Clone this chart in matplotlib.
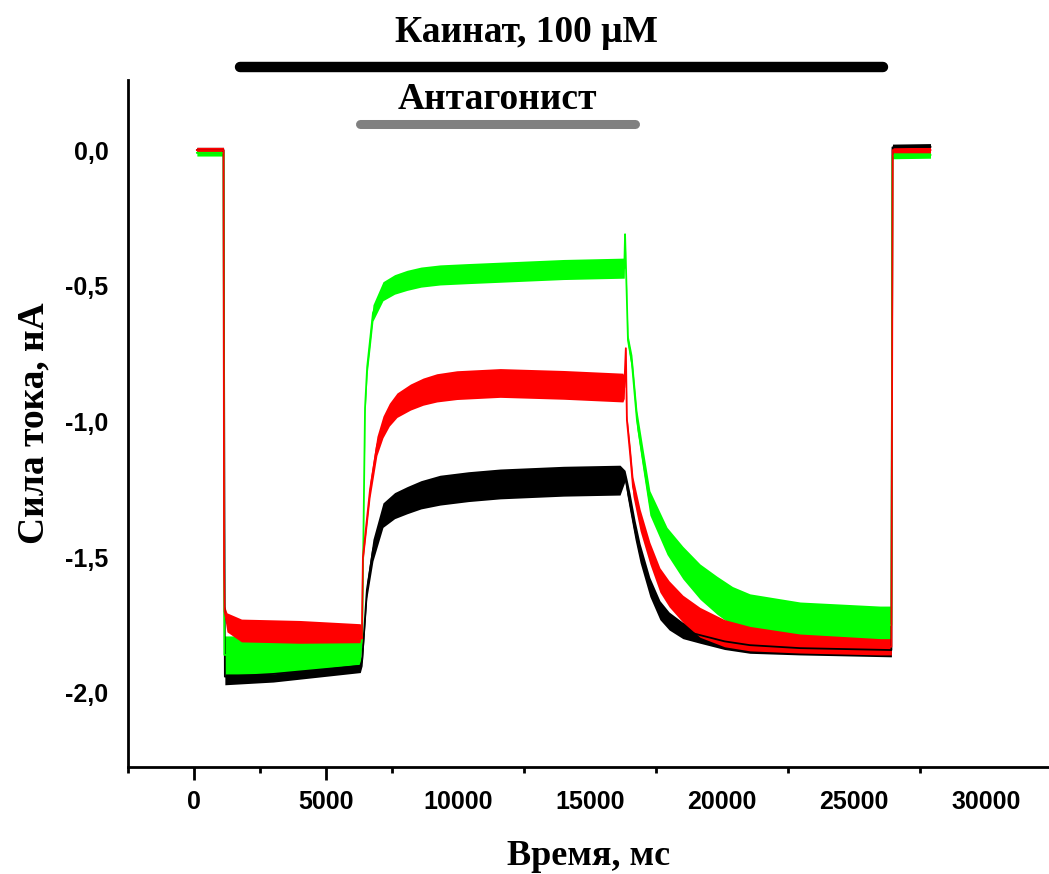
import matplotlib.pyplot as plt
import numpy as np
from matplotlib.ticker import FixedLocator, FuncFormatter

# Traces: time (ms), mean current (nA), noise half-width (nA)
black_t = [110, 1120, 1170, 3000, 6300, 6370, 6550, 6780, 7160, 7600, 8070, 8600, 9320,
           10400, 11600, 14000, 16140, 16330, 16400, 16520, 16710, 16900, 17270, 17650,
           18000, 18520, 19170, 20100, 21060, 22960, 26420, 26460, 27900]
black_i = [0.0, 0.0, -1.94, -1.93, -1.90, -1.88, -1.62, -1.474, -1.345, -1.31, -1.29, -1.27,
           -1.253, -1.24, -1.23, -1.22, -1.216, -1.20, -1.24, -1.30, -1.40, -1.485, -1.61,
           -1.695, -1.735, -1.77, -1.787, -1.81, -1.824, -1.835, -1.842, 0.01, 0.012]
black_hw = [0.01, 0.01, 0.03, 0.03, 0.025, 0.02, 0.03, 0.04, 0.045, 0.048, 0.05, 0.052,
            0.055, 0.055, 0.055, 0.055, 0.055, 0.02, 0.03, 0.035, 0.035, 0.035, 0.035, 0.035,
            0.033, 0.03, 0.03, 0.03, 0.03, 0.025, 0.025, 0.012, 0.012]

red_t = [110, 1120, 1140, 1160, 1250, 1800, 4000, 6300, 6360, 6400, 6670, 6930, 7160, 7400,
         7690, 8200, 8680, 9200, 9960, 11600, 14000, 16250, 16300, 16360, 16400, 16520, 16630,
         16900, 17270, 17650, 18000, 18520, 19170, 20100, 21060, 22960, 26000, 26420, 26470,
         27900]
red_i = [0.0, 0.0, -1.54, -1.70, -1.74, -1.77, -1.775, -1.78, -1.80, -1.50, -1.25, -1.09,
         -1.02, -0.975, -0.94, -0.91, -0.89, -0.876, -0.866, -0.858, -0.865, -0.875, -0.875,
         -0.73, -0.995, -1.117, -1.24, -1.363, -1.485, -1.584, -1.635, -1.69, -1.74, -1.78,
         -1.80, -1.818, -1.83, -1.83, 0.0, 0.0]
red_hw = [0.01, 0.01, 0.005, 0.02, 0.035, 0.042, 0.042, 0.035, 0.03, 0.02, 0.03, 0.035, 0.04,
          0.042, 0.045, 0.048, 0.05, 0.052, 0.053, 0.053, 0.053, 0.053, 0.04, 0.005, 0.02, 0.03,
          0.035, 0.04, 0.04, 0.045, 0.048, 0.05, 0.055, 0.05, 0.045, 0.035, 0.03, 0.03, 0.01,
          0.01]

green_t = [110, 1120, 1150, 3000, 6300, 6370, 6480, 6560, 6670, 6780, 7160, 7600, 8070,
           8600, 9320, 10400, 11600, 14000, 16300, 16330, 16370, 16440, 16590, 16780, 17010,
           17270, 17920, 18520, 19170, 19810, 20400, 21060, 22960, 25990, 26420, 26460, 27900]
green_i = [-0.010, -0.010, -1.86, -1.86, -1.84, -1.80, -0.95, -0.80, -0.70, -0.60, -0.52,
           -0.495, -0.48, -0.468, -0.46, -0.455, -0.45, -0.44, -0.435, -0.31, -0.45, -0.70,
           -0.785, -0.995, -1.14, -1.30, -1.44, -1.52, -1.59, -1.64, -1.68, -1.71, -1.74,
           -1.75, -1.75, -0.02, -0.018]
green_hw = [0.012, 0.012, 0.07, 0.07, 0.055, 0.01, 0.02, 0.025, 0.03, 0.03, 0.035, 0.036,
            0.037, 0.037, 0.037, 0.037, 0.037, 0.037, 0.037, 0.005, 0.01, 0.02, 0.03, 0.035,
            0.04, 0.045, 0.05, 0.06, 0.065, 0.07, 0.072, 0.075, 0.075, 0.07, 0.07, 0.012,
            0.012]

# Application bars: (start ms, end ms) and their labels
kainate_bar = (1740, 26100)
kainate_label = 'Каинат, 100 μM'
antagonist_bar = (6290, 16700)
antagonist_label = 'Антагонист'

x_labels = [0, 5000, 10000, 15000, 20000, 25000, 30000]
y_labels = [0.0, -0.5, -1.0, -1.5, -2.0]

serif = ['Liberation Serif', 'DejaVu Serif']
sans = ['Liberation Sans', 'DejaVu Sans']

fig = plt.figure(figsize=(10.49, 8.74), dpi=100)
ax = fig.add_axes([0.122, 0.1224, 0.878, 0.786])

traces = [
    (black_t, black_i, black_hw, '#000000'),
    (green_t, green_i, green_hw, '#00ff00'),
    (red_t, red_i, red_hw, '#ff0000'),
]
for t, i, hw, color in traces:
    t = np.asarray(t, float)
    i = np.asarray(i, float)
    hw = np.asarray(hw, float)
    ax.fill_between(t, i - hw, i + hw, color=color, linewidth=0)
    ax.plot(t, i, color=color, linewidth=1.3)

ax.set_xlim(-2500, 32390)
ax.set_ylim(-2.273, 0.258)

# bars above the traces
ax.plot(kainate_bar, [0.306, 0.306], color='black', linewidth=7.5,
        solid_capstyle='round', clip_on=False)
ax.plot(antagonist_bar, [0.096, 0.096], color='#808080', linewidth=6.5,
        solid_capstyle='round', clip_on=False)
ax.text(12580, 0.435, kainate_label, ha='center', va='center', fontsize=27,
        fontweight='bold', family=serif, clip_on=False)
ax.text(11480, 0.185, antagonist_label, ha='center', va='center', fontsize=27,
        fontweight='bold', family=serif, clip_on=False)

for side in ['top', 'right']:
    ax.spines[side].set_visible(False)
for side in ['left', 'bottom']:
    ax.spines[side].set_linewidth(2.0)

ax.xaxis.set_major_locator(FixedLocator(x_labels))
ax.xaxis.set_minor_locator(FixedLocator([-2500, 2500, 7500, 12500, 17500, 22500, 27500]))
ax.yaxis.set_major_locator(FixedLocator(y_labels))
ax.yaxis.set_major_formatter(FuncFormatter(lambda v, p: ('%.1f' % v).replace('.', ',')))
ax.tick_params(axis='x', which='major', length=9.5, width=2, pad=7, labelsize=18)
ax.tick_params(axis='x', which='minor', length=4.5, width=2)
ax.tick_params(axis='y', length=0, pad=14, labelsize=18)
for lab in ax.get_xticklabels() + ax.get_yticklabels():
    lab.set_family(sans)
    lab.set_fontweight('bold')
# only the first two major ticks carry a mark
for tick in ax.xaxis.get_major_ticks()[2:]:
    tick.tick1line.set_visible(False)

ax.set_xlabel('Время, мс', fontsize=26, fontweight='bold', family=serif, labelpad=19)
ax.set_ylabel('Сила тока, нА', fontsize=27, fontweight='bold', family=serif, labelpad=10)

fig.savefig('out.png', dpi=100)
